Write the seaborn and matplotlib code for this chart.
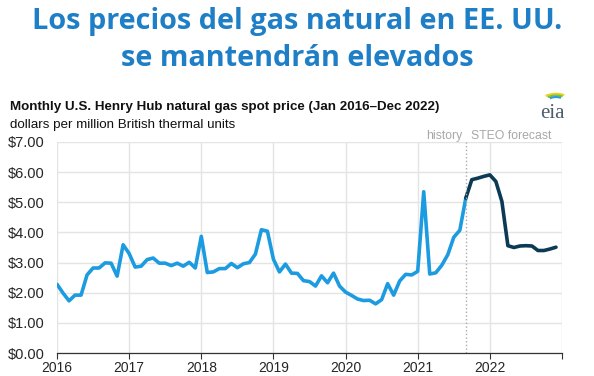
import numpy as np
import pandas as pd
import matplotlib
matplotlib.use("Agg")
import matplotlib.pyplot as plt
from matplotlib.patches import Arc
import seaborn as sns

# Henry Hub monthly spot price, $/MMBtu
hist_start = "2016-01"
hist_prices = [
    2.28, 1.99, 1.73, 1.92, 1.92, 2.59, 2.82, 2.82, 2.99, 2.98, 2.55, 3.59,  # 2016
    3.30, 2.85, 2.88, 3.10, 3.15, 2.98, 2.98, 2.90, 2.98, 2.88, 3.01, 2.82,  # 2017
    3.87, 2.67, 2.69, 2.80, 2.80, 2.97, 2.83, 2.96, 3.00, 3.28, 4.09, 4.04,  # 2018
    3.11, 2.69, 2.95, 2.65, 2.64, 2.40, 2.37, 2.22, 2.56, 2.33, 2.65, 2.22,  # 2019
    2.02, 1.91, 1.79, 1.74, 1.75, 1.63, 1.77, 2.30, 1.92, 2.39, 2.61, 2.59,  # 2020
    2.71, 5.35, 2.62, 2.66, 2.91, 3.26, 3.84, 4.07, 5.14,                    # 2021 hist
]
# STEO forecast, Sep 2021 - Dec 2022 (starts at last history point)
fcst_start = "2021-09"
fcst_prices = [5.14, 5.75, 5.80, 5.86, 5.91, 5.69, 5.03,
               3.56, 3.50, 3.55, 3.56, 3.55, 3.40, 3.40, 3.45, 3.51]

year_ticks = [2016, 2017, 2018, 2019, 2020, 2021, 2022, 2023]
year_labels = ["2016", "2017", "2018", "2019", "2020", "2021", "2022", ""]
y_ticks = [0, 1, 2, 3, 4, 5, 6, 7]


def to_frac_year(start, n):
    y, m = map(int, start.split("-"))
    return [y + (m - 1 + i) / 12 for i in range(n)]


hist = pd.DataFrame({"x": to_frac_year(hist_start, len(hist_prices)), "price": hist_prices})
fcst = pd.DataFrame({"x": to_frac_year(fcst_start, len(fcst_prices)), "price": fcst_prices})

sns.set_style("white")
plt.rcParams["font.family"] = ["Liberation Sans", "DejaVu Sans"]

fig = plt.figure(figsize=(5.94, 3.76), dpi=100)
ax = fig.add_axes([57 / 594, 23 / 376, 505 / 594, 211 / 376])

light_blue = "#1d9be0"
navy = "#0b3a55"

sns.lineplot(data=hist, x="x", y="price", ax=ax, color=light_blue, linewidth=2.6)
sns.lineplot(data=fcst, x="x", y="price", ax=ax, color=navy, linewidth=2.6)

ax.set_xlim(2016, 2023)
ax.set_ylim(0, 7)
ax.set_xticks(year_ticks)
ax.set_xticklabels(year_labels, fontsize=10)
ax.set_yticks(y_ticks)
ax.set_yticklabels([f"${v:.2f}" for v in y_ticks], fontsize=10.5)
ax.set_xlabel("")
ax.set_ylabel("")
ax.grid(True, color="#e4e4e4", linewidth=1)
ax.set_axisbelow(True)
for s in ["top", "right", "left"]:
    ax.spines[s].set_visible(False)
ax.spines["bottom"].set_color("#333333")
ax.spines["bottom"].set_linewidth(0.9)
ax.tick_params(axis="x", bottom=True, length=4, color="#333333", pad=2)
ax.tick_params(axis="y", left=False, pad=32)
for lab in ax.get_yticklabels():
    lab.set_horizontalalignment("left")

# history / forecast divider
split = fcst["x"].iloc[0]
ax.axvline(split, color="#aaaaaa", linestyle=":", linewidth=1)
ax.text(split - 0.05, 7.2, "history", ha="right", va="center", fontsize=8.8, color="#a8a8a8")
ax.text(split + 0.07, 7.2, "STEO forecast", ha="left", va="center", fontsize=8.8, color="#a8a8a8")

# headings
fig.text(0.5, 1 - 22 / 376, "Los precios del gas natural en EE. UU.", ha="center", va="center",
         fontsize=20.8, fontweight="bold", color="#1e7fc6", family="Open Sans")
fig.text(0.5, 1 - 58 / 376, "se mantendrán elevados", ha="center", va="center",
         fontsize=20.8, fontweight="bold", color="#1e7fc6", family="Open Sans")
fig.text(10 / 594, 1 - 107 / 376, "Monthly U.S. Henry Hub natural gas spot price (Jan 2016\u2013Dec 2022)",
         ha="left", va="center", fontsize=9.6, fontweight="bold", color="#111111")
fig.text(10 / 594, 1 - 125 / 376, "dollars per million British thermal units",
         ha="left", va="center", fontsize=9.6, color="#111111")

# eia logo
fig.text(552 / 594, 1 - 113 / 376, "eia", ha="center", va="center", fontsize=15,
         family="Liberation Serif", color="#4d5d6b")
for r, c in [(0.15, "#f2d21b"), (0.12, "#7cc242"), (0.09, "#2f9bd6")]:
    fig.add_artist(Arc((5.56, 3.76 - 1.02), 2 * r, 1.1 * r, theta1=40, theta2=150,
                       transform=fig.dpi_scale_trans, color=c, linewidth=1.5))

fig.savefig("out.png", dpi=100)
